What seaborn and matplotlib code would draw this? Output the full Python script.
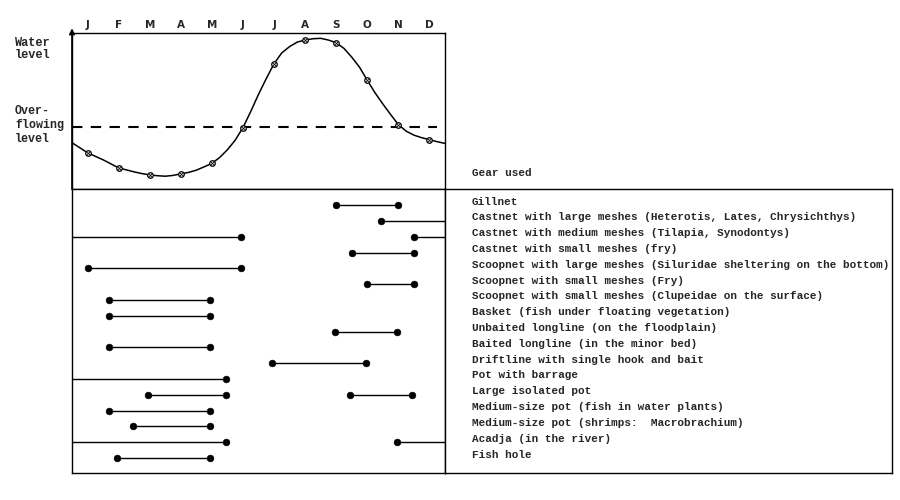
import numpy as np
import pandas as pd
import matplotlib
matplotlib.use("Agg")
import matplotlib.pyplot as plt
import seaborn as sns

sns.set_theme(style="white")
plt.rcParams["font.family"] = ["Liberation Mono", "DejaVu Sans Mono"]

# ── data ──────────────────────────────────────────
months = ["J", "F", "M", "A", "M", "J", "J", "A", "S", "O", "N", "D"]
month_pos = [0, 1, 2, 3, 4, 5, 6, 7, 8, 9, 10, 11]

# water level (arbitrary units) every quarter month
curve_pos = [-0.5, -0.25, 0, 0.25, 0.5, 0.75, 1, 1.25, 1.5, 1.75, 2, 2.25, 2.5,
             2.75, 3, 3.25, 3.5, 3.75, 4, 4.25, 4.5, 4.75, 5, 5.25, 5.5, 5.75,
             6, 6.25, 6.5, 6.75, 7, 7.25, 7.5, 7.75, 8, 8.25, 8.5, 8.75, 9,
             9.25, 9.5, 9.75, 10, 10.25, 10.5, 10.75, 11, 11.25, 11.5]
curve_level = [46, 41, 36, 32.5, 29, 25, 21, 19, 17, 15.3, 14, 13.2, 12.7,
               13.5, 15, 16.5, 18.7, 22, 25.5, 31.3, 39, 48.5, 61, 77, 94, 109.7,
               124.5, 135.3, 141.5, 146, 148, 149.3, 149.7, 148, 145.3, 139.7, 131, 121, 108,
               95.5, 84.5, 74, 64, 57.5, 53.5, 51, 49, 47, 45.3]
monthly_level = [36, 21, 14, 15, 25.5, 61, 124.5, 148, 145.3, 108, 64, 49]
overflow_level = 62

gears = [
    "Gillnet",
    "Castnet with large meshes (Heterotis, Lates, Chrysichthys)",
    "Castnet with medium meshes (Tilapia, Synodontys)",
    "Castnet with small meshes (fry)",
    "Scoopnet with large meshes (Siluridae sheltering on the bottom)",
    "Scoopnet with small meshes (Fry)",
    "Scoopnet with small meshes (Clupeidae on the surface)",
    "Basket (fish under floating vegetation)",
    "Unbaited longline (on the floodplain)",
    "Baited longline (in the minor bed)",
    "Driftline with single hook and bait",
    "Pot with barrage",
    "Large isolated pot",
    "Medium-size pot (fish in water plants)",
    "Medium-size pot (shrimps:  Macrobrachium)",
    "Acadja (in the river)",
    "Fish hole",
]

# periods of use (month index, 0 = January); -0.5 / 11.5 = runs off the chart
EDGE_L, EDGE_R = -0.5, 11.5
seg_gear = [0, 1, 2, 2, 3, 4, 5, 6, 7, 8, 9, 10, 11, 12, 12, 13, 14, 15, 15, 16]
seg_start = [8.0, 9.45, EDGE_L, 10.5, 8.5, 0.0, 9.0, 0.7, 0.7, 7.95, 0.7, 5.95,
             EDGE_L, 1.95, 8.45, 0.7, 1.45, EDGE_L, 9.95, 0.95]
seg_end = [10.0, EDGE_R, 4.95, EDGE_R, 10.5, 4.95, 10.5, 3.95, 3.95, 9.95, 3.95, 8.95,
           4.45, 4.45, 10.45, 3.93, 3.93, 4.45, EDGE_R, 3.93]

seg_df = pd.DataFrame({
    "seg": list(range(len(seg_gear))) * 2,
    "row": seg_gear * 2,
    "month": seg_start + seg_end,
})
dots_df = seg_df[(seg_df["month"] > EDGE_L) & (seg_df["month"] < EDGE_R)]

# ── figure ────────────────────────────────────────
W, H = 900, 500
fig = plt.figure(figsize=(9, 5), dpi=100)
fig.patch.set_facecolor("white")


def rect(x0, y0, x1, y1):
    return [x0 / W, 1 - y1 / H, (x1 - x0) / W, (y1 - y0) / H]


ax_top = fig.add_axes(rect(72, 33, 445, 189))
ax_gear = fig.add_axes(rect(72, 189, 445, 473))
ax_lab = fig.add_axes(rect(445, 189, 892, 473))

for ax in (ax_top, ax_gear, ax_lab):
    ax.set_facecolor("white")
    for sp in ax.spines.values():
        sp.set_visible(True)
        sp.set_color("black")
        sp.set_linewidth(1.0)

# top panel: water level
sns.lineplot(x=curve_pos, y=curve_level, ax=ax_top, color="black", lw=1.1)
sns.scatterplot(x=month_pos, y=monthly_level, ax=ax_top, marker="o", s=16,
                facecolor="white", edgecolor="black", linewidth=0.9, zorder=3)
sns.scatterplot(x=month_pos, y=monthly_level, ax=ax_top, marker="x", s=6,
                color="black", linewidth=0.6, zorder=4)
ax_top.plot([EDGE_L, 11.25], [overflow_level, overflow_level], color="black",
            lw=1.5, ls=(0, (5, 4)))
ax_top.set_xlim(EDGE_L, EDGE_R)
ax_top.set_ylim(0, 155)
ax_top.set_yticks([])
ax_top.set_xticks(month_pos)
ax_top.set_xticklabels(months, family="DejaVu Sans", fontsize=7.5, fontweight="bold")
ax_top.xaxis.tick_top()
ax_top.tick_params(axis="x", length=0, pad=2)
ax_top.set_xlabel("")
ax_top.set_ylabel("")
ax_top.annotate("", xy=(0, 1.03), xytext=(0, 0), xycoords="axes fraction",
                arrowprops=dict(arrowstyle="-|>", color="black", lw=1.2,
                                mutation_scale=8, shrinkA=0, shrinkB=0))

# bottom panel: periods of use
sns.lineplot(data=seg_df, x="month", y="row", units="seg", estimator=None,
             sort=False, ax=ax_gear, color="black", lw=1.0)
sns.scatterplot(data=dots_df, x="month", y="row", ax=ax_gear, s=24,
                color="black", edgecolor="black", zorder=3)
ax_gear.set_xlim(EDGE_L, EDGE_R)
ax_gear.set_ylim(16.95, -1.02)
ax_gear.set_xticks([])
ax_gear.set_yticks([])
ax_gear.set_xlabel("")
ax_gear.set_ylabel("")

# labels box
ax_lab.set_xlim(0, 1)
ax_lab.set_ylim(16.95, -1.02)
ax_lab.set_xticks([])
ax_lab.set_yticks([])
for i, g in enumerate(gears):
    ax_lab.text(0.06, i - 0.22, g, fontsize=7.9, fontweight="bold",
                va="center", ha="left")

fig.text(472 / W, 1 - 173 / H, "Gear used", fontsize=7.9, fontweight="bold",
         va="center", ha="left")
fig.text(15 / W, 1 - 49 / H, "Water\nlevel", fontsize=8.6, fontweight="bold",
         va="center", ha="left", linespacing=1.05)
fig.text(15 / W, 1 - 125 / H, "Over-\nflowing\nlevel", fontsize=8.4,
         fontweight="bold", va="center", ha="left", linespacing=1.2)

fig.savefig("out.png", dpi=100, facecolor="white")
